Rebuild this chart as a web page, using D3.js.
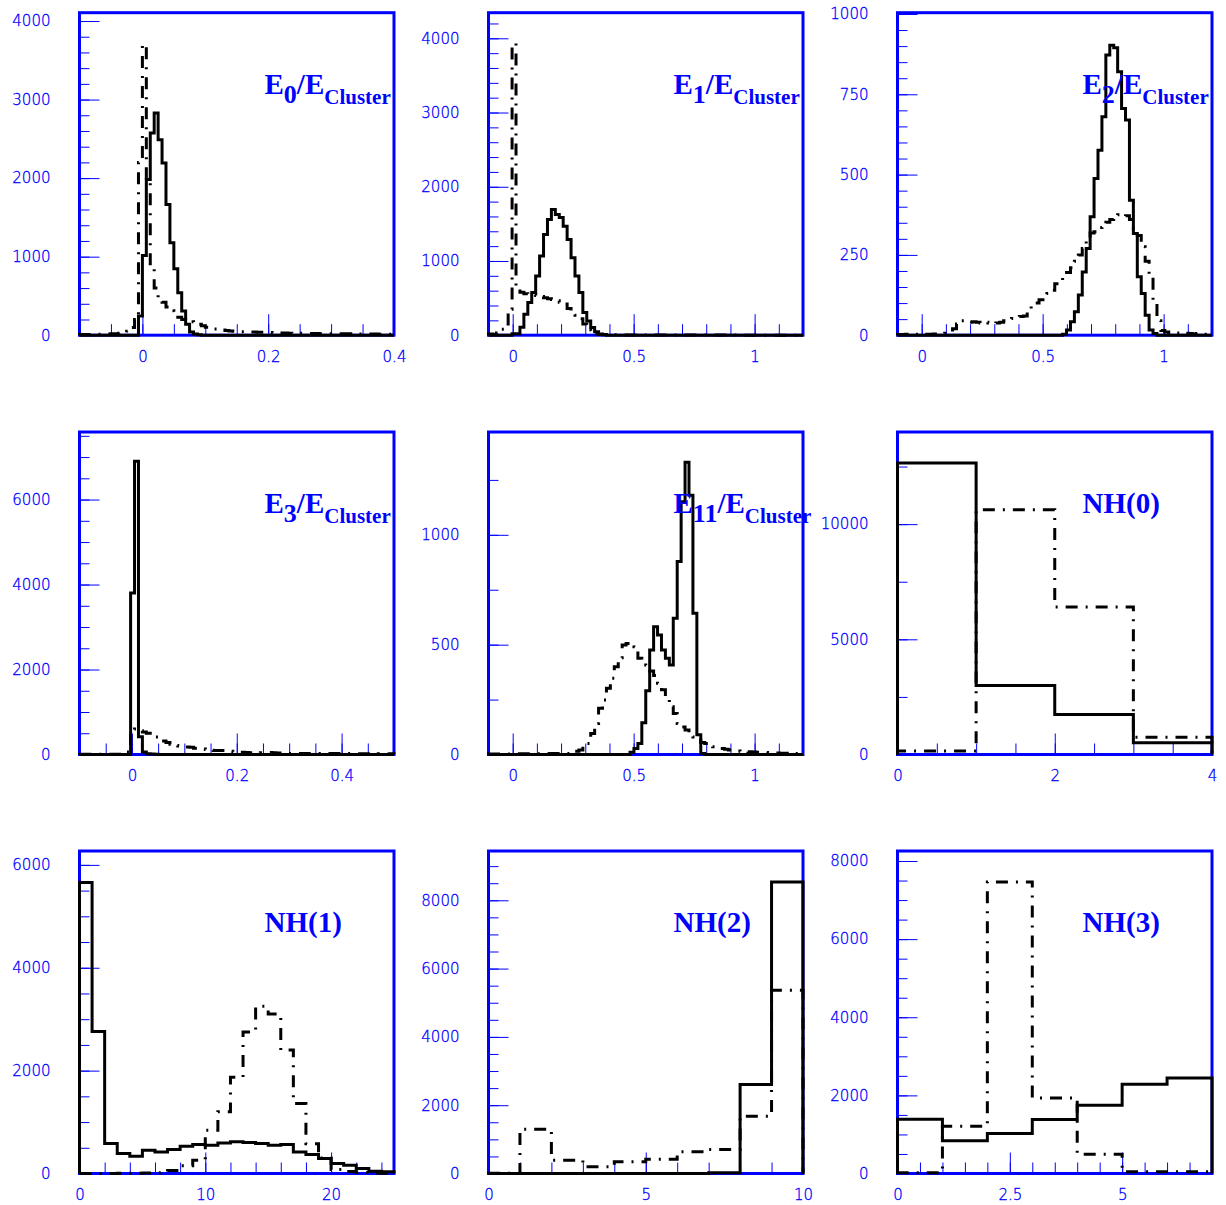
<!DOCTYPE html>
<html>
<head>
<meta charset="utf-8">
<script src="https://cdn.jsdelivr.net/npm/d3@7"></script>
<style>
  body { margin: 0; background: #fff; }
  .tick text { font-family: "DejaVu Sans", sans-serif; font-size: 15px; font-weight: 200; fill: #0000ff; stroke: #0000ff; stroke-width: 0.3; }
  .tick line { stroke: #0000ff; stroke-width: 1; }
  .title { font-family: "Liberation Serif", "Times New Roman", serif; font-weight: bold; font-size: 29px; fill: #0000ff; }
</style>
</head>
<body>
<script>
// panel titles, row by row
var titles = ["E0", "E1", "E2", "E3", "E11", "NH(0)", "NH(1)", "NH(2)", "NH(3)"];

// axis ranges
var xDomains = [[-0.1, 0.4], [-0.1, 1.2], [-0.1, 1.2], [-0.1, 0.5], [-0.1, 1.2], [0, 4], [0, 25], [0, 10], [0, 7]];
var yMax = [4106, 4345, 1004, 7590, 1468, 14000, 6270, 9443, 8256];
var xMajor = [[0, 0.2, 0.4], [0, 0.5, 1], [0, 0.5, 1], [0, 0.2, 0.4], [0, 0.5, 1], [0, 2, 4], [0, 10, 20], [0, 5, 10], [0, 2.5, 5]];
var xMinorStep = [0.05, 0.1, 0.1, 0.05, 0.1, 0.5, 2, 1, 0.5];
var yMajor = [[0, 1000, 2000, 3000, 4000], [0, 1000, 2000, 3000, 4000], [0, 250, 500, 750, 1000],
              [0, 2000, 4000, 6000], [0, 500, 1000], [0, 5000, 10000], [0, 2000, 4000, 6000],
              [0, 2000, 4000, 6000, 8000], [0, 2000, 4000, 6000, 8000]];
var yMinorStep = [200, 200, 50, 500, 250, 2500, 500, 500, 500];

// bin contents, solid = first sample, dashdot = second sample
var e0Solid = [0,0,0,0,0,0,0,0,0,0,
  0,0,0,0,0,245,1016,1981,2574,2828,
  2489,2193,1664,1177,847,542,309,140,40,15,
  5,0,0,0,0,0,0,0,0,0,
  0,0,0,0,0,0,0,0,0,0,
  0,0,0,0,0,0,0,0,0,0,
  0,0,0,0,0,0,0,0,0,0,
  0,0,0,0,0,0,0,0,0,0];
var e0Dash = [8,8,10,10,12,12,14,15,18,20,
  25,34,50,97,200,2200,3700,2000,880,600,
  480,420,360,310,260,230,200,185,170,160,
  140,120,100,90,80,72,65,60,55,50,
  48,45,42,40,40,38,38,36,35,32,
  30,28,27,26,25,25,24,24,23,22,
  22,20,20,19,19,18,18,17,17,16,
  16,15,15,15,14,14,13,13,12,12];

var e1Solid = [0,0,0,0,0,0,20,20,107,282,
  440,574,797,1066,1357,1559,1693,1626,1585,1469,
  1290,1044,797,574,305,192,103,45,15,5,
  0,0,0,0,0,0,0,0,0,0,
  0,0,0,0,0,0,0,0,0,0,
  0,0,0,0,0,0,0,0,0,0,
  0,0,0,0,0,0,0,0,0,0,
  0,0,0,0,0,0,0,0,0,0];
var e1Dash = [15,10,30,80,150,350,3930,620,580,560,
  550,545,535,520,505,490,480,465,445,420,
  360,320,270,220,150,70,30,15,10,8,
  6,5,5,5,4,4,4,3,3,3,
  3,3,3,2,2,2,2,2,2,2,
  2,2,2,2,2,2,2,2,2,2,
  2,2,2,2,1,1,1,1,1,1,
  1,1,1,1,1,1,1,1,1,1];

var e2Solid = [0,0,0,0,0,0,0,0,0,0,
  0,0,0,0,0,0,0,0,0,0,
  0,0,0,0,0,0,0,0,0,0,
  0,0,0,0,0,0,0,0,0,0,
  0,0,3,16,42,73,125,197,270,369,
  488,576,680,872,903,895,820,706,670,420,
  317,182,130,62,16,5,0,0,0,0,
  0,0,0,0,0,0,0,0,0,0];
var e2Dash = [2,2,3,2,3,3,2,3,3,4,
  4,5,6,10,20,35,45,42,40,42,
  40,38,40,38,36,38,40,45,48,52,
  55,58,60,80,90,100,110,120,130,140,
  160,170,185,195,210,230,250,270,300,318,
  322,335,345,352,360,368,375,370,372,360,
  330,310,275,230,190,100,45,15,10,8,
  6,7,5,6,5,4,5,4,3,3];

var e3Solid = [0,0,0,0,0,0,0,0,0,0,
  0,0,0,3800,6900,415,60,20,10,5,
  0,0,0,0,0,0,0,0,0,0,
  0,0,0,0,0,0,0,0,0,0,
  0,0,0,0,0,0,0,0,0,0,
  0,0,0,0,0,0,0,0,0,0,
  0,0,0,0,0,0,0,0,0,0,
  0,0,0,0,0,0,0,0,0,0];
var e3Dash = [3,3,3,3,3,5,5,5,5,5,
  8,10,60,550,600,560,530,500,450,410,
  380,320,280,240,210,200,185,175,170,150,
  135,130,115,100,95,95,92,90,75,65,
  55,55,45,40,38,40,42,45,45,40,
  36,35,30,26,24,24,23,24,22,24,
  23,22,24,22,21,22,20,22,21,20,
  20,19,20,18,19,18,20,18,17,18];

var e11Solid = [0,0,0,0,0,0,0,0,0,0,
  0,0,0,0,0,0,0,0,0,0,
  0,0,0,0,0,0,0,0,0,0,
  0,0,0,0,0,0,10,27,50,144,
  290,476,582,544,476,438,407,620,878,1150,
  1330,1180,643,90,5,0,0,0,0,0,
  0,0,0,0,0,0,0,0,0,0,
  0,0,0,0,0,0,0,0,0,0];
var e11Dash = [2,2,2,2,2,2,2,3,3,3,
  3,3,3,3,3,4,4,4,4,5,
  5,10,15,20,35,50,96,141,210,248,
  301,347,400,440,498,505,509,491,438,420,
  407,380,360,324,295,250,217,187,141,125,
  111,95,80,65,55,50,42,35,30,27,
  24,20,18,16,15,13,12,11,10,10,
  9,8,8,7,6,6,5,5,4,4];

var nh0Solid = [12650, 3000, 1740, 510];
var nh0Dash = [150, 10620, 6400, 750];
var nh1Solid = [5660, 2763, 582, 388, 336, 453, 420, 466, 530, 563, 550, 595, 615, 602, 582, 550, 563, 420, 369, 291, 194, 162, 97, 45, 32];
var nh1Dash = [0, 0, 0, 5, 5, 10, 15, 60, 150, 260, 840, 1200, 1870, 2750, 3250, 3100, 2400, 1360, 580, 300, 80, 40, 20, 10, 5];
var nh2Solid = [0, 0, 0, 0, 0, 0, 0, 20, 2605, 8537];
var nh2Dash = [10, 1298, 390, 195, 341, 420, 634, 702, 1678, 5366];
var nh3Solid = [1390, 836, 1024, 1382, 1749, 2286, 2448];
var nh3Dash = [20, 1211, 7464, 1936, 495, 43, 43];

var solids = [e0Solid, e1Solid, e2Solid, e3Solid, e11Solid, nh0Solid, nh1Solid, nh2Solid, nh3Solid];
var dashes = [e0Dash, e1Dash, e2Dash, e3Dash, e11Dash, nh0Dash, nh1Dash, nh2Dash, nh3Dash];

// page layout
var width = 1226, height = 1205;
var frameW = 314.5, frameH = 322.5;
var colX = [79.5, 488.5, 897.5];
var rowY = [12.7, 432, 851];

var svg = d3.select("body").append("svg")
    .attr("width", width)
    .attr("height", height);
svg.append("rect").attr("width", width).attr("height", height).attr("fill", "#fff");

function stepsOf(lo, hi, step) {
  var out = [];
  for (var i = Math.ceil(lo / step - 1e-9); i <= Math.floor(hi / step + 1e-9); i++) {
    out.push(+(i * step).toFixed(6));
  }
  return out;
}

// outline of a histogram, bins of equal width over the x domain
function histPoints(values, x, y, dom) {
  var w = (dom[1] - dom[0]) / values.length;
  var pts = [[x(dom[0]), y(0)]];
  values.forEach(function(v, i) {
    pts.push([x(dom[0] + i * w), y(v)]);
    pts.push([x(dom[0] + (i + 1) * w), y(v)]);
  });
  pts.push([x(dom[1]), y(0)]);
  return pts;
}

var line = d3.line();

titles.forEach(function(title, p) {
  var g = svg.append("g")
      .attr("transform", "translate(" + colX[p % 3] + "," + rowY[Math.floor(p / 3)] + ")");

  var x = d3.scaleLinear().domain(xDomains[p]).range([0, frameW]);
  var y = d3.scaleLinear().domain([0, yMax[p]]).range([frameH, 0]);

  // frame
  g.append("rect")
      .attr("width", frameW)
      .attr("height", frameH)
      .attr("fill", "none")
      .attr("stroke", "#0000ff")
      .attr("stroke-width", 3);

  // y ticks, pointing inwards
  g.append("g")
      .call(d3.axisLeft(y).tickValues(stepsOf(0, yMax[p], yMinorStep[p])).tickSize(-10).tickFormat(""))
      .call(function(a) { a.select(".domain").remove(); });
  g.append("g")
      .call(d3.axisLeft(y).tickValues(yMajor[p]).tickSize(-20).tickPadding(29).tickFormat(d3.format("~g")))
      .call(function(a) { a.select(".domain").remove(); });

  // x ticks
  g.append("g")
      .attr("transform", "translate(0," + frameH + ")")
      .call(d3.axisBottom(x).tickValues(stepsOf(xDomains[p][0], xDomains[p][1], xMinorStep[p])).tickSize(-11).tickFormat(""))
      .call(function(a) { a.select(".domain").remove(); });
  g.append("g")
      .attr("transform", "translate(0," + frameH + ")")
      .call(d3.axisBottom(x).tickValues(xMajor[p]).tickSize(-21).tickPadding(16).tickFormat(d3.format("~g")))
      .call(function(a) { a.select(".domain").remove(); });

  // the two histograms
  g.append("path")
      .attr("d", line(histPoints(dashes[p], x, y, xDomains[p])))
      .attr("fill", "none")
      .attr("stroke", "#000")
      .attr("stroke-width", 3)
      .attr("stroke-dasharray", "12,8,2,8");
  g.append("path")
      .attr("d", line(histPoints(solids[p], x, y, xDomains[p])))
      .attr("fill", "none")
      .attr("stroke", "#000")
      .attr("stroke-width", 3);

  // title
  var t = g.append("text")
      .attr("class", "title")
      .attr("x", 185)
      .attr("y", 81);
  if (title.charAt(0) == "E") {
    t.append("tspan").text("E");
    t.append("tspan").attr("dy", 9).style("font-size", "26px").text(title.slice(1));
    t.append("tspan").attr("dy", -9).text("/E");
    t.append("tspan").attr("dy", 10).style("font-size", "21px").text("Cluster");
  } else {
    t.text(title);
  }
});
</script>
</body>
</html>
